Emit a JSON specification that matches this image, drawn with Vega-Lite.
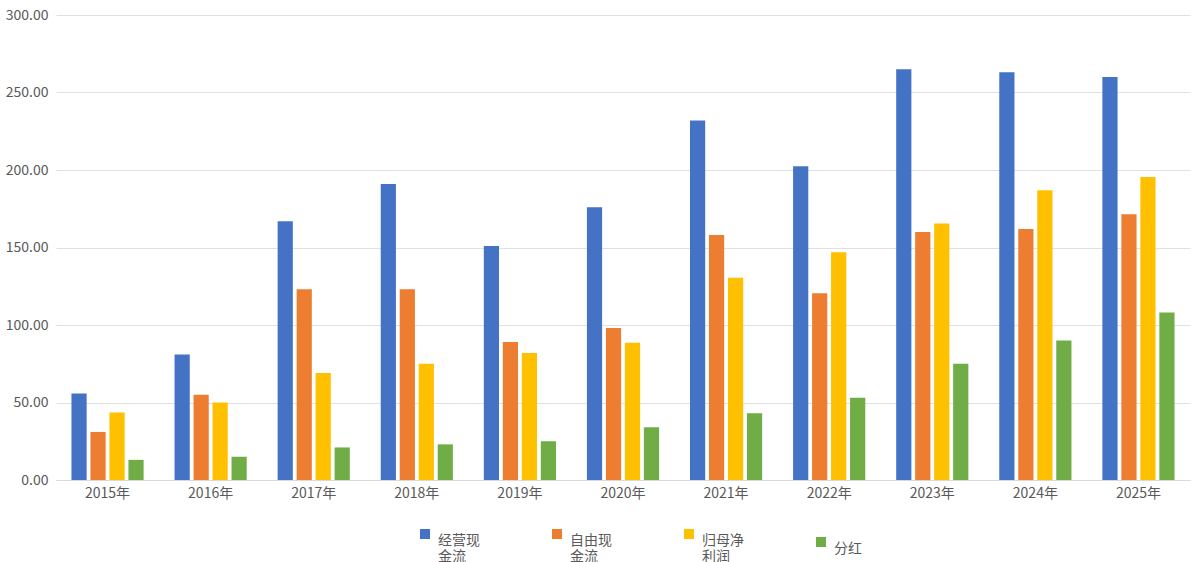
{
  "$schema": "https://vega.github.io/schema/vega-lite/v6.json",
  "width": 1200,
  "height": 562,
  "autosize": {"type": "fit", "contains": "padding"},
  "padding": {"left": 5, "right": 10, "top": 8, "bottom": 62},
  "config": {
    "font": "Noto Sans CJK SC",
    "view": {"stroke": null},
    "axis": {"labelFont": "Noto Sans CJK SC", "labelColor": "#595959", "labelFontSize": 14}
  },
  "data": {
    "values": [
      {"year": "2015年", "s": "经营现|金流", "v": 55.8},
      {"year": "2015年", "s": "自由现|金流", "v": 31},
      {"year": "2015年", "s": "归母净|利润", "v": 43.5},
      {"year": "2015年", "s": "分红", "v": 13},
      {"year": "2016年", "s": "经营现|金流", "v": 81},
      {"year": "2016年", "s": "自由现|金流", "v": 55},
      {"year": "2016年", "s": "归母净|利润", "v": 50},
      {"year": "2016年", "s": "分红", "v": 15},
      {"year": "2017年", "s": "经营现|金流", "v": 167},
      {"year": "2017年", "s": "自由现|金流", "v": 123},
      {"year": "2017年", "s": "归母净|利润", "v": 69},
      {"year": "2017年", "s": "分红", "v": 21},
      {"year": "2018年", "s": "经营现|金流", "v": 191},
      {"year": "2018年", "s": "自由现|金流", "v": 123},
      {"year": "2018年", "s": "归母净|利润", "v": 75},
      {"year": "2018年", "s": "分红", "v": 23},
      {"year": "2019年", "s": "经营现|金流", "v": 151},
      {"year": "2019年", "s": "自由现|金流", "v": 89},
      {"year": "2019年", "s": "归母净|利润", "v": 82},
      {"year": "2019年", "s": "分红", "v": 25},
      {"year": "2020年", "s": "经营现|金流", "v": 176},
      {"year": "2020年", "s": "自由现|金流", "v": 98},
      {"year": "2020年", "s": "归母净|利润", "v": 88.5},
      {"year": "2020年", "s": "分红", "v": 34},
      {"year": "2021年", "s": "经营现|金流", "v": 232},
      {"year": "2021年", "s": "自由现|金流", "v": 158},
      {"year": "2021年", "s": "归母净|利润", "v": 130.5},
      {"year": "2021年", "s": "分红", "v": 43},
      {"year": "2022年", "s": "经营现|金流", "v": 202.5},
      {"year": "2022年", "s": "自由现|金流", "v": 120.5},
      {"year": "2022年", "s": "归母净|利润", "v": 147},
      {"year": "2022年", "s": "分红", "v": 53},
      {"year": "2023年", "s": "经营现|金流", "v": 265},
      {"year": "2023年", "s": "自由现|金流", "v": 160},
      {"year": "2023年", "s": "归母净|利润", "v": 165.5},
      {"year": "2023年", "s": "分红", "v": 75},
      {"year": "2024年", "s": "经营现|金流", "v": 263},
      {"year": "2024年", "s": "自由现|金流", "v": 162},
      {"year": "2024年", "s": "归母净|利润", "v": 187},
      {"year": "2024年", "s": "分红", "v": 90},
      {"year": "2025年", "s": "经营现|金流", "v": 260},
      {"year": "2025年", "s": "自由现|金流", "v": 171.5},
      {"year": "2025年", "s": "归母净|利润", "v": 195.5},
      {"year": "2025年", "s": "分红", "v": 108}
    ]
  },
  "mark": {"type": "bar"},
  "encoding": {
    "x": {
      "field": "year", "type": "ordinal", "title": null,
      "scale": {"paddingInner": 0.3, "paddingOuter": 0.15},
      "axis": {"labelAngle": 0, "domainColor": "#d9d9d9", "ticks": false, "labelPadding": 6}
    },
    "xOffset": {"field": "s", "sort": ["经营现|金流", "自由现|金流", "归母净|利润", "分红"], "scale": {"paddingInner": 0.2}},
    "y": {
      "field": "v", "type": "quantitative", "title": null,
      "scale": {"domain": [0, 300]},
      "axis": {"format": ".2f", "tickCount": 6, "domain": false, "ticks": false, "gridColor": "#e0e0e0", "labelPadding": 8}
    },
    "color": {
      "field": "s", "type": "nominal", "title": null,
      "sort": ["经营现|金流", "自由现|金流", "归母净|利润", "分红"],
      "scale": {"domain": ["经营现|金流", "自由现|金流", "归母净|利润", "分红"], "range": ["#4472C4", "#ED7D31", "#FFC000", "#70AD47"]},
      "legend": {
        "orient": "none", "legendX": 362, "legendY": 512,
        "direction": "horizontal", "columns": 4, "symbolType": "square",
        "labelExpr": "split(datum.label, '|')", "labelFontSize": 14, "labelColor": "#595959",
        "labelBaseline": "top", "labelOffset": 6,
        "columnPadding": 70, "symbolSize": 100, "labelLimit": 200
      }
    }
  }
}
